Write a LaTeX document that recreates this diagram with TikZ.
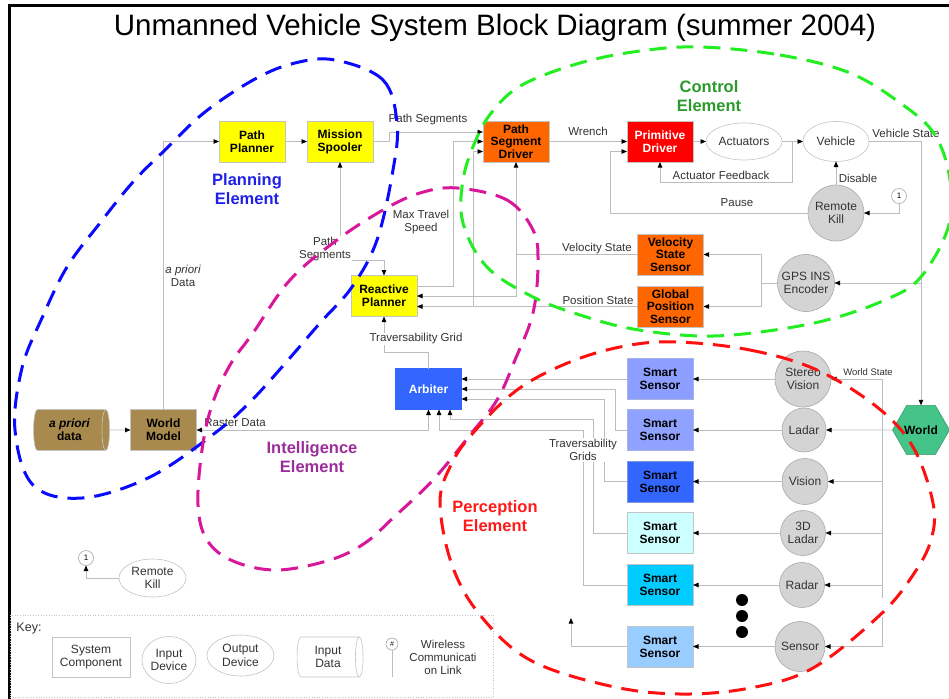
\documentclass[tikz,border=0pt]{standalone}
\usepackage{fontspec}
\setmainfont{Liberation Sans}
\usetikzlibrary{arrows.meta,shapes.geometric,calc}
\definecolor{lgray}{HTML}{BDBDBD}
\definecolor{bgray}{HTML}{C4C4C4}
\definecolor{cgray}{HTML}{D4D4D4}
\definecolor{cedge}{HTML}{A8A8A8}
\definecolor{txtgray}{HTML}{333333}
\definecolor{yel}{HTML}{FFFF00}
\definecolor{ora}{HTML}{FF6600}
\definecolor{pdred}{HTML}{FF0000}
\definecolor{arbblue}{HTML}{3366FF}
\definecolor{brn}{HTML}{A88A4E}
\definecolor{ssA}{HTML}{8C9EFF}
\definecolor{ssB}{HTML}{8FA2FF}
\definecolor{ssC}{HTML}{3366FF}
\definecolor{ssD}{HTML}{CCFFFF}
\definecolor{ssE}{HTML}{00CCFF}
\definecolor{ssF}{HTML}{99CCFF}
\definecolor{wgreen}{HTML}{44C488}
\definecolor{planblue}{HTML}{2020E8}
\definecolor{ctlgreen}{HTML}{2A9A2A}
\definecolor{intpurple}{HTML}{9B2D9B}
\definecolor{perred}{HTML}{FF1A1A}
\definecolor{ringblue}{HTML}{0A0AFF}
\definecolor{ringgreen}{HTML}{22EE22}
\definecolor{ringmag}{HTML}{D8179B}
\definecolor{ringred}{HTML}{FF1010}
\begin{document}
\begin{tikzpicture}[x=1pt,y=-1pt,
  >={Triangle[length=5.5pt,width=4.5pt,color=black]},
  every node/.style={inner sep=0pt, outer sep=0pt},
  conn/.style={draw=lgray, line width=0.8pt, ->},
  conn2/.style={draw=lgray, line width=0.8pt, <->},
  wire/.style={draw=lgray, line width=0.8pt},
  box/.style={rectangle, draw=bgray, line width=0.6pt, minimum width=66pt, minimum height=41pt, align=center, font=\fontsize{12}{13}\selectfont\bfseries},
  dev/.style={circle, draw=cedge, fill=cgray, line width=0.6pt, align=center, font=\fontsize{12}{13.5}\selectfont, text=txtgray},
  oval/.style={ellipse, draw=bgray, fill=white, line width=0.6pt, align=center, font=\fontsize{12}{13.5}\selectfont, text=txtgray},
  wl/.style={circle, draw=cedge, fill=white, line width=0.6pt, minimum size=15pt, font=\fontsize{8}{8}\selectfont},
  lbl/.style={font=\fontsize{11.5}{13}\selectfont, text=txtgray, align=center, inner sep=1pt},
  lblw/.style={lbl, fill=white},
  elem/.style={font=\fontsize{16.5}{18.5}\selectfont\bfseries, align=center},
  ring/.style={line width=3pt, dash pattern=on 17pt off 10pt},
  cyl/.style={cylinder, shape border rotate=0, aspect=0.35, draw=bgray, line width=0.6pt, align=center, cylinder uses custom fill}
]
\useasboundingbox (0,0) rectangle (949,698);
\clip (0,0) rectangle (949,698);
\fill[white] (0,0) rectangle (949,698);
\draw[line width=3pt] (9,800) -- (9,6) -- (1000,6);

% title
\node[font=\fontsize{29.5}{32}\selectfont] (title) at (495,28) {Unmanned Vehicle System Block Diagram (summer 2004)};

% planning / control
\node[box, fill=yel] (pp) at (252,141.5) {Path\\Planner};
\node[box, fill=yel] (ms) at (340,141.5) {Mission\\Spooler};
\node[box, fill=ora, font=\fontsize{12}{12.5}\selectfont\bfseries] (psd) at (516,141.5) {Path\\Segment\\Driver};
\node[box, fill=pdred, text=white] (pd) at (660,141.5) {Primitive\\Driver};
\node[oval, minimum width=76pt, minimum height=37pt] (act) at (744,141.5) {Actuators};
\node[oval, minimum width=66pt, minimum height=40pt] (veh) at (836,141.5) {Vehicle};
\node[dev, minimum size=56pt] (rk) at (836,213) {Remote\\Kill};
\node[wl] (w1) at (899,196) {1};
\node[box, fill=ora, font=\fontsize{12}{12.5}\selectfont\bfseries] (vss) at (670.5,254.5) {Velocity\\State\\Sensor};
\node[box, fill=ora, font=\fontsize{12}{12.5}\selectfont\bfseries] (gps) at (670.5,306.5) {Global\\Position\\Sensor};
\node[dev, minimum size=57pt] (gpsins) at (806,283) {GPS INS\\Encoder};
\node[box, fill=yel] (rp) at (384,296) {Reactive\\Planner};
\node[box, fill=arbblue, text=white, draw=arbblue] (arb) at (428.5,389) {Arbiter};
\node[cyl, cylinder body fill=brn, cylinder end fill=brn, minimum width=41pt, minimum height=76pt, font=\fontsize{12}{13}\selectfont\bfseries] (apd) at (69.5,430) {\textit{a priori}\\data};
\node[box, fill=brn] (wm) at (163.5,430) {World\\Model};

% perception
\node[box, fill=ssA, draw=ssA!80!black!60] (ss1) at (660,379) {Smart\\Sensor};
\node[box, fill=ssB, draw=ssB!80!black!60] (ss2) at (660,430) {Smart\\Sensor};
\node[box, fill=ssC, draw=ssC!80!black!60] (ss3) at (660,481.5) {Smart\\Sensor};
\node[box, fill=ssD, draw=bgray] (ss4) at (660,533) {Smart\\Sensor};
\node[box, fill=ssE, draw=bgray] (ss5) at (660,585) {Smart\\Sensor};
\node[box, fill=ssF, draw=bgray] (ss6) at (660,646.5) {Smart\\Sensor};
\node[dev, minimum size=56pt] (sv) at (803,379) {Stereo\\Vision};
\node[dev, minimum size=44pt] (lad) at (804,430) {Ladar};
\node[dev, minimum size=46pt] (vis) at (805,481.5) {Vision};
\node[dev, minimum size=45pt] (l3d) at (803,533) {3D\\Ladar};
\node[dev, minimum size=45pt] (rad) at (802,585) {Radar};
\node[dev, minimum size=50pt] (sen) at (800,646.5) {Sensor};
\node[regular polygon, regular polygon sides=6, minimum size=57pt, fill=wgreen, draw=wgreen!80!black, line width=0.6pt, font=\fontsize{12}{13}\selectfont\bfseries] (world) at (921,430) {World};
\node[circle, fill=black, minimum size=12pt] (d1) at (742,600) {};
\node[circle, fill=black, minimum size=12pt] (d2) at (742,616) {};
\node[circle, fill=black, minimum size=12pt] (d3) at (742,632) {};

% bottom-left remote kill
\node[oval, minimum width=67pt, minimum height=38pt] (rk2) at (152.5,578) {Remote\\Kill};
\node[wl] (w2) at (86,558) {1};

% key
\node[draw=bgray, dotted, line width=0.6pt, minimum width=483pt, minimum height=82pt] (keybox) at (251.5,656) {};
\node[font=\fontsize{12.5}{13}\selectfont, text=txtgray] (keyl) at (29,628) {Key:};
\node[rectangle, draw=bgray, line width=0.6pt, minimum width=78pt, minimum height=40pt, align=center, font=\fontsize{12}{13.5}\selectfont, text=txtgray] (kSC) at (91,657) {System\\Component};
\node[oval, minimum width=54pt, minimum height=47pt] (kID) at (169,660) {Input\\Device};
\node[oval, minimum width=67pt, minimum height=41pt] (kOD) at (240.5,655.5) {Output\\Device};
\node[cyl, cylinder body fill=white, cylinder end fill=white, minimum width=40pt, minimum height=66pt, font=\fontsize{12}{13.5}\selectfont, text=txtgray] (kIDa) at (328,657) {Input\\Data};
\node[wl, minimum size=12pt, font=\fontsize{7}{7}\selectfont] (kW) at (392,644) {\#};
\coordinate (kWend) at (392,677);
\node[lbl, font=\fontsize{11.5}{13}\selectfont] (kWt) at (443,657) {Wireless\\Communicati\\on Link};

% connectors
\draw[conn] (wm.north) |- (pp.west);
\draw[conn] (pp.east) -- (ms.west);
\draw[conn] (ms.east) -- ++(16,0) |- ($(psd.west)+(0,-9.5)$);
\draw[conn] ($(rp.east)+(0,-10)$) -- ++(36,0) |- (psd.west);
\draw[conn] (vss.west) -| (psd.south);
\draw[conn] (vss.west -| psd.south) |- (rp.east);
\draw[conn] (gps.west) -- (gps.west -| rp.east);
\coordinate (pj) at (473,0);
\draw[conn] (gps.west -| pj) |- ($(psd.west)+(0,10)$);
\draw[conn] (arb.north) -- ++(0,-16) -| (rp.south);
\draw[conn2] (ms.south) -- ++(0,98) -| (rp.north);
\draw[conn2] (wm.east) -| (arb.south);
\draw[conn] (apd.east) -- (wm.west);
\draw[conn] (psd.east) -- (pd.west);
\draw[conn] (pd.east) -- (act.west);
\draw[conn] (act.east) -- (veh.west);
\coordinate (fb) at ($(act.east)!0.5!(veh.west)$);
\draw[conn] (fb) -- ++(0,40.5) -| (pd.south);
\draw[conn] (rk.north) -- (veh.south);
\draw[conn] (w1.south) |- (rk.east);
\draw[conn] (rk.west) -- ++(-198,0) |- ($(pd.west)+(0,10)$);
\draw[conn] (veh.east) -| (world.north);
\draw[conn] (gpsins.east -| world.north) -- (gpsins.east);
\draw[conn] (gpsins.west) -- ++(-16,0) |- (vss.east);
\draw[conn] (gpsins.west) -- ++(-16,0) |- (gps.east);
% sensors bus
\coordinate (busT) at (882,379);
\coordinate (busG1) at (882,598);
\coordinate (busG2) at (882,617);
\coordinate (busB) at (882,646.5);
\draw[wire] (busT) -- (busG1);
\draw[wire] (busG2) -- (busB);
\draw[conn] (busT) -- (sv.east);
\draw[conn] (world.west) -- (lad.east);
\draw[conn] (vis.east -| busT) -- (vis.east);
\draw[conn] (l3d.east -| busT) -- (l3d.east);
\draw[conn] (rad.east -| busT) -- (rad.east);
\draw[conn] (busB) -- (sen.east);
\draw[conn] (sv.west) -- (ss1.east);
\draw[conn] (lad.west) -- (ss2.east);
\draw[conn] (vis.west) -- (ss3.east);
\draw[conn] (l3d.west) -- (ss4.east);
\draw[conn] (rad.west) -- (ss5.east);
\draw[conn] (sen.west) -- (ss6.east);
% smart sensors to arbiter
\draw[conn] (ss1.west) -- (ss1.west -| arb.east);
\draw[conn] (ss2.west) -- ++(-12,0) |- (arb.east);
\draw[conn] (ss3.west) -- ++(-23,0) |- ($(arb.east)+(0,10)$);
\draw[conn] (ss4.west) -- ++(-34,0) |- ($(arb.south)+(21.5,10)$) -- ($(arb.south)+(21.5,0)$);
\draw[conn] (ss5.west) -- ++(-44,0) |- ($(arb.south)+(10.5,21)$) -- ($(arb.south)+(10.5,0)$);
\coordinate (ss6end) at (571,618);
\draw[conn] (ss6.west) -| (ss6end);
\draw[conn] (rk2.west) -| (w2.south);
\draw[wire] (kW.south) -- (kWend);

% labels
\node[lbl] (lPS1) at (428,120) {Path Segments};
\node[lblw] (lAP) at (183,276) {{\itshape a priori}\\Data};
\node[lblw] (lPS2) at (325,249) {Path\\Segments};
\node[lbl] (lMTS) at (421,222) {Max Travel\\Speed};
\node[lbl] (lW) at (588,131) {Wrench};
\node[lbl] (lAF) at (721,175) {Actuator Feedback};
\node[lbl] (lP) at (737,203) {Pause};
\node[lbl] (lD) at (858,178) {Disable};
\node[lbl] (lVS) at (906,133) {Vehicle State};
\node[lbl] (lVel) at (597,249) {Velocity State};
\node[lbl] (lPos) at (598,300) {Position State};
\node[lblw] (lTG) at (416,339) {Traversability Grid};
\node[lbl] (lRD) at (235,423) {Raster Data};
\node[lblw] (lTGs) at (583,450) {Traversability\\Grids};
\node[lbl, font=\fontsize{9.5}{10}\selectfont] (lWS) at (868,372) {World State};

% element rings
\draw[ring, ringblue] plot[smooth cycle, tension=0.6] coordinates {(335,60) (383,80) (397,123) (393,170) (377,240) (352,287) (320,323) (282,367) (250,402) (215,433) (150,477) (82,498) (33,485) (15,430) (22,368) (42,318) (67,267) (100,223) (133,182) (165,150) (205,112) (255,79) (295,63)};
\draw[ring, ringmag] plot[smooth cycle, tension=0.6] coordinates {(457,188) (507,200) (533,230) (538,262) (533,313) (515,360) (497,400) (470,435) (433,480) (393,518) (365,543) (330,560) (277,570) (233,561) (207,540) (198,505) (202,450) (212,405) (230,365) (253,333) (290,280) (337,240) (383,210) (420,193)};
\draw[ring, ringgreen] plot[smooth cycle, tension=0.6] coordinates {(700,47) (780,55) (850,73) (903,105) (935,135) (950,180) (948,228) (920,278) (885,300) (827,320) (760,332) (700,336) (633,329) (580,315) (533,297) (487,267) (463,223) (463,180) (475,142) (492,112) (522,85) (580,63) (640,51)};
\draw[ring, ringred] plot[smooth cycle, tension=0.6] coordinates {(677,342) (750,350) (817,370) (877,407) (913,447) (933,503) (931,540) (913,575) (880,615) (813,668) (750,688) (680,694) (610,686) (530,660) (480,615) (452,565) (440,503) (451,465) (473,433) (517,390) (570,362) (625,346)};

\node[elem, text=planblue] (ePlan) at (247,189) {Planning\\Element};
\node[elem, text=ctlgreen] (eCtl) at (709,96) {Control\\Element};
\node[elem, text=intpurple] (eInt) at (312,457) {Intelligence\\Element};
\node[elem, text=perred] (ePer) at (495,516) {Perception\\Element};
\end{tikzpicture}
\end{document}
